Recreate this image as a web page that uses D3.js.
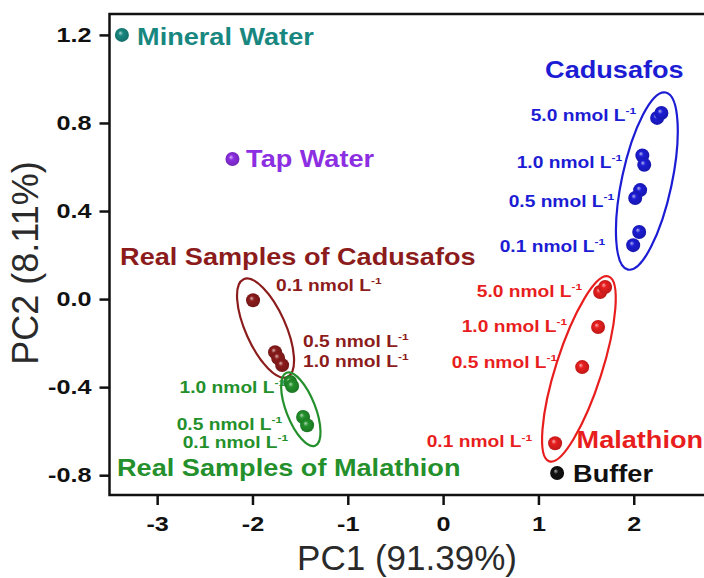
<!DOCTYPE html>
<html>
<head>
<meta charset="utf-8">
<script src="https://cdn.jsdelivr.net/npm/d3@7"></script>
<style>
  body { margin: 0; background: #fff; }
  svg { display: block; }
  text { font-family: "Liberation Sans", Arial, sans-serif; }
</style>
</head>
<body>
<svg id="chart" width="704" height="578"></svg>
<script>
/// PCA scores [PC1, PC2]
const mineralWater = [[-3.37, 1.20]];
const tapWater = [[-2.21, 0.636]];
const cadusafos = [[2.245, 0.823], [2.29, 0.845], [2.09, 0.652], [2.11, 0.61], [2.067, 0.495], [2.015, 0.459], [2.057, 0.305], [1.994, 0.245]];
const malathion = [[1.647, 0.032], [1.70, 0.055], [1.626, -0.127], [1.459, -0.309], [1.175, -0.655]];
const realCadusafos = [[-1.994, -0.005], [-1.763, -0.241], [-1.731, -0.268], [-1.689, -0.30]];
const realMalathion = [[-1.605, -0.377], [-1.584, -0.395], [-1.469, -0.536], [-1.427, -0.573]];
const buffer = [[1.196, -0.79]];

const xTicks = [-3, -2, -1, 0, 1, 2];
const yTicks = [-0.8, -0.4, 0.0, 0.4, 0.8, 1.2];
const xTitle = 'PC1 (91.39%)';
const yTitle = 'PC2 (8.11%)';

/// concentration labels [value, PC1, PC2]
const cadusafosConc = [['5.0', 2.025, 0.809], ['1.0', 1.878, 0.595], ['0.5', 1.794, 0.418], ['0.1', 1.700, 0.214]];
const malathionConc = [['5.0', 1.459, 0.009], ['1.0', 1.301, -0.150], ['0.5', 1.196, -0.314], ['0.1', 0.934, -0.673]];
const realCadusafosConc = [['0.1', -1.752, 0.036], ['0.5', -1.469, -0.218], ['1.0', -1.469, -0.309]];
const realMalathionConc = [['1.0', -1.658, -0.427], ['0.5', -1.689, -0.595], ['0.1', -1.626, -0.677]];

/// sample names [text, PC1, PC2]
const sampleNames = [
  ['Mineral Water', -3.211, 1.155],
  ['Tap Water', -2.067, 0.600],
  ['Cadusafos', 1.070, 1.005],
  ['Real Samples of Cadusafos', -3.389, 0.155],
  ['Real Samples of Malathion', -3.421, -0.805],
  ['Malathion', 1.40, -0.677],
  ['Buffer', 1.364, -0.832]
];

const colors = {
  mineral: '#18877f',
  tap: '#8c2ee2',
  cadusafos: '#1c1cd4',
  malathion: '#e81e1e',
  realCadusafos: '#8c1c1c',
  realMalathion: '#23902b',
  buffer: '#111111'
};

const series = [
  {key: 'mineral', points: mineralWater},
  {key: 'tap', points: tapWater},
  {key: 'cadusafos', points: cadusafos, ring: {pad: 23, minor: 25, shift: 2}, conc: cadusafosConc, anchor: 'end'},
  {key: 'malathion', points: malathion, ring: {pad: 15, minor: 23, shift: 4}, conc: malathionConc, anchor: 'end'},
  {key: 'realCadusafos', points: realCadusafos, ring: {pad: 18, minor: 20, shift: -5}, conc: realCadusafosConc, anchor: 'start'},
  {key: 'realMalathion', points: realMalathion, ring: {pad: 16, minor: 14.5, shift: 6}, conc: realMalathionConc, anchor: 'end'},
  {key: 'buffer', points: buffer}
];
const nameColors = ['mineral', 'tap', 'cadusafos', 'realCadusafos', 'realMalathion', 'malathion', 'buffer'];

const svg = d3.select('#chart');
const frame = {left: 109.5, right: 710, top: 14, bottom: 495};

let x = d3.scaleLinear().domain([-3.5, 2.8]).range([frame.left, frame.right]);
let y = d3.scaleLinear().domain([-0.89, 1.295]).range([frame.bottom, frame.top]);

/// shaded balls
const defs = svg.append('defs');
Object.keys(colors).forEach(function(k) {
  let c = colors[k];
  let grad = defs.append('radialGradient').attr('id', 'ball-' + k)
    .attr('cx', '0.5').attr('cy', '0.5').attr('r', '0.6').attr('fx', '0.38').attr('fy', '0.35');
  grad.append('stop').attr('offset', '0%').attr('stop-color', d3.interpolateRgb(c, '#ffffff')(0.65));
  grad.append('stop').attr('offset', '30%').attr('stop-color', c);
  grad.append('stop').attr('offset', '100%').attr('stop-color', d3.color(c).darker(0.7));
});

/// axes
const xAxis = svg.append('g').attr('transform', 'translate(0,' + frame.bottom + ')')
  .call(d3.axisBottom(x).tickValues(xTicks).tickSize(10).tickPadding(11).tickFormat(function(d) { return String(d); }));
const yAxis = svg.append('g').attr('transform', 'translate(' + frame.left + ',0)')
  .call(d3.axisLeft(y).tickValues(yTicks).tickSize(10).tickPadding(8).tickFormat(function(d) { return d.toFixed(1); }));

[xAxis, yAxis].forEach(function(a) {
  a.select('.domain').remove();
  a.selectAll('.tick line').attr('stroke', '#111').attr('stroke-width', 2.5);
  a.selectAll('.tick text').attr('fill', '#111').attr('font-size', 21).attr('font-weight', 'bold')
    .attr('font-family', '"Liberation Sans", Arial, sans-serif');
});
/// the bold text in the figure is wider than Arial, stretch it a bit
xAxis.selectAll('.tick text').attr('transform', 'scale(1.2,1)');
yAxis.selectAll('.tick text').attr('transform', function() {
  let tx = +d3.select(this).attr('x');
  return 'translate(' + tx + ',0) scale(1.2,1)';
}).attr('x', 0);

svg.append('rect')
  .attr('x', frame.left).attr('y', frame.top)
  .attr('width', frame.right - frame.left).attr('height', frame.bottom - frame.top)
  .attr('fill', 'none').attr('stroke', '#111').attr('stroke-width', 2.5);

/// axis titles
svg.append('text').attr('x', 407).attr('y', 570).attr('text-anchor', 'middle')
  .attr('font-size', 35).attr('fill', '#2a2a2a').text(xTitle);
svg.append('text').attr('transform', 'translate(38,263) rotate(-90)').attr('text-anchor', 'middle')
  .attr('font-size', 36).attr('fill', '#2a2a2a').text(yTitle);

/// ellipse around a cluster, along its two farthest points
function ring(g, pts, opt, color) {
  let px = pts.map(function(p) { return [x(p[0]), y(p[1])]; });
  let best = [px[0], px[0]], dist = -1;
  px.forEach(function(a) {
    px.forEach(function(b) {
      let d = Math.hypot(a[0] - b[0], a[1] - b[1]);
      if (d > dist) { dist = d; best = a[1] <= b[1] ? [a, b] : [b, a]; }
    });
  });
  let dx = best[1][0] - best[0][0], dy = best[1][1] - best[0][1];
  let ux = dx / dist, uy = dy / dist;
  let cx = (best[0][0] + best[1][0]) / 2 + ux * opt.shift;
  let cy = (best[0][1] + best[1][1]) / 2 + uy * opt.shift;
  let angle = Math.atan2(dy, dx) * 180 / Math.PI;
  g.append('ellipse')
    .attr('transform', 'translate(' + cx + ',' + cy + ') rotate(' + angle + ')')
    .attr('rx', dist / 2 + opt.pad).attr('ry', opt.minor)
    .attr('fill', 'none').attr('stroke', color).attr('stroke-width', 2.2);
}

function label(g, text, sup, px, py, color, size, anchor, k) {
  let t = g.append('text')
    .attr('transform', 'translate(' + x(px) + ',' + y(py) + ') scale(' + k + ',1)')
    .attr('text-anchor', anchor).attr('font-weight', 'bold')
    .attr('font-size', size).attr('fill', color).text(text);
  if (sup) {
    t.append('tspan').attr('font-size', size * 0.62).attr('dy', -size * 0.42).text(sup);
  }
  return t;
}

const plot = svg.append('g');

series.forEach(function(s) {
  if (s.ring) ring(plot, s.points, s.ring, colors[s.key]);
});

series.forEach(function(s) {
  plot.selectAll(null).data(s.points).enter().append('circle')
    .attr('cx', function(d) { return x(d[0]); })
    .attr('cy', function(d) { return y(d[1]); })
    .attr('r', 7)
    .attr('fill', 'url(#ball-' + s.key + ')');
  if (s.conc) {
    s.conc.forEach(function(c) {
      label(plot, c[0] + ' nmol L', '-1', c[1], c[2], colors[s.key], 16, s.anchor, 1.2);
    });
  }
});

sampleNames.forEach(function(n, i) {
  label(plot, n[0], null, n[1], n[2], colors[nameColors[i]], 24, 'start', 1.13);
});
</script>
</body>
</html>
